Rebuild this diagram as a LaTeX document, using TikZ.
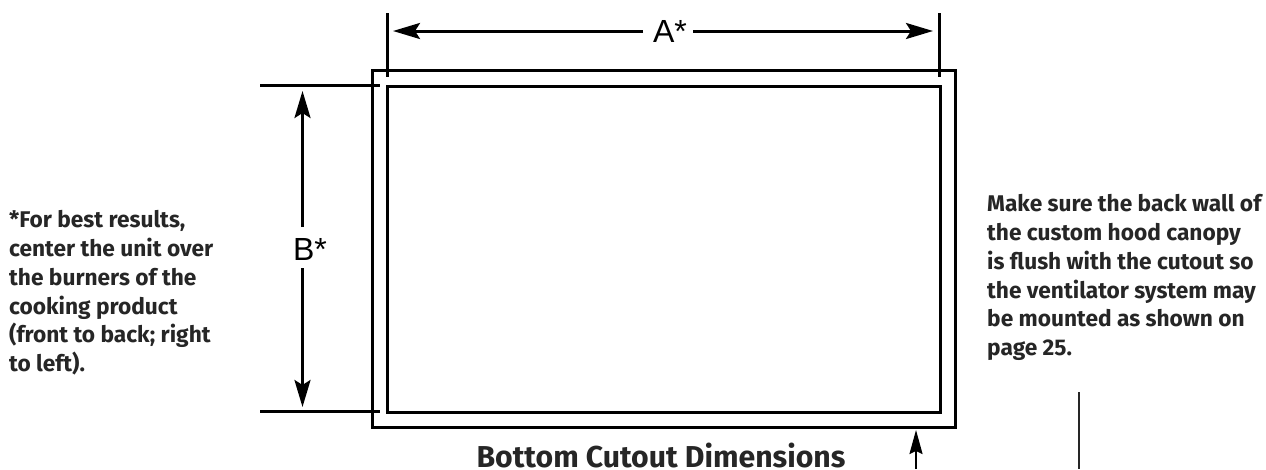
\documentclass[tikz,border=0pt]{standalone}
\usepackage{fontspec}
\setmainfont{Fira Sans}
\newfontfamily\dimfont{Liberation Sans}
\usetikzlibrary{arrows.meta}
\tikzset{
  x=1pt,y=-1pt,
  box/.style={line width=3pt,line join=miter},
  extline/.style={line width=3pt},
  dimline/.style={line width=3pt,-{Stealth[length=27pt,width=16pt,inset=5pt]}},
  note/.style={font=\fontsize{22.7}{28.7}\selectfont\bfseries,align=left,anchor=north west,inner sep=0pt,text=black!85},
  dimlabel/.style={font=\dimfont\fontsize{32}{32}\selectfont,inner sep=0pt},
}
\begin{document}
\begin{tikzpicture}
\useasboundingbox (0,0) rectangle (1266,469);
\fill[white] (0,0) rectangle (1266,469);
\draw[box] (372.5,70.5) rectangle (955.5,427);
\draw[box] (387,86.5) rectangle (940.5,412);
\coordinate (al1) at (387,13); \coordinate (al2) at (387,77);
\coordinate (ar1) at (939,13); \coordinate (ar2) at (939,77);
\coordinate (bt1) at (260,85.5); \coordinate (bt2) at (380,85.5);
\coordinate (bb1) at (260,411); \coordinate (bb2) at (380,411);
\draw[extline] (al1)--(al2);
\draw[extline] (ar1)--(ar2);
\draw[extline] (bt1)--(bt2);
\draw[extline] (bb1)--(bb2);
\node[dimlabel] (A) at (670,31) {A*};
\node[dimlabel] (B) at (310,249) {B*};
\coordinate (at) at (393,31); \coordinate (ae) at (933,31);
\coordinate (bu) at (302.5,91); \coordinate (bd) at (302.5,407);
\coordinate (ags) at (643,31); \coordinate (age) at (693,31);
\coordinate (bgs) at (302.5,227); \coordinate (bge) at (302.5,268);
\draw[dimline] (ags)--(at);
\draw[dimline] (age)--(ae);
\draw[dimline] (bgs)--(bu);
\draw[dimline] (bge)--(bd);
\coordinate (s1) at (916,469); \coordinate (s2) at (916,430);
\draw[dimline,line width=2pt,-{Stealth[length=24pt,width=13pt,inset=3pt]}] (s1)--(s2);
\coordinate (v1) at (1079,392); \coordinate (v2) at (1079,469);
\draw[line width=1.6pt,black!85] (v1)--(v2);
\node[note] (left) at (9,210.5) {*For best results,\\center the unit over\\the burners of the\\cooking product\\(front to back; right\\to left).};
\node[note] (right) at (987,194.5) {Make sure the back wall of\\the custom hood canopy\\is flush with the cutout so\\the ventilator system may\\be mounted as shown on\\page 25.};
\node[font=\fontsize{30.2}{32}\selectfont\bfseries,text=black!85,inner sep=0pt,anchor=base] (title) at (661,467) {Bottom Cutout Dimensions};
\end{tikzpicture}
\end{document}
